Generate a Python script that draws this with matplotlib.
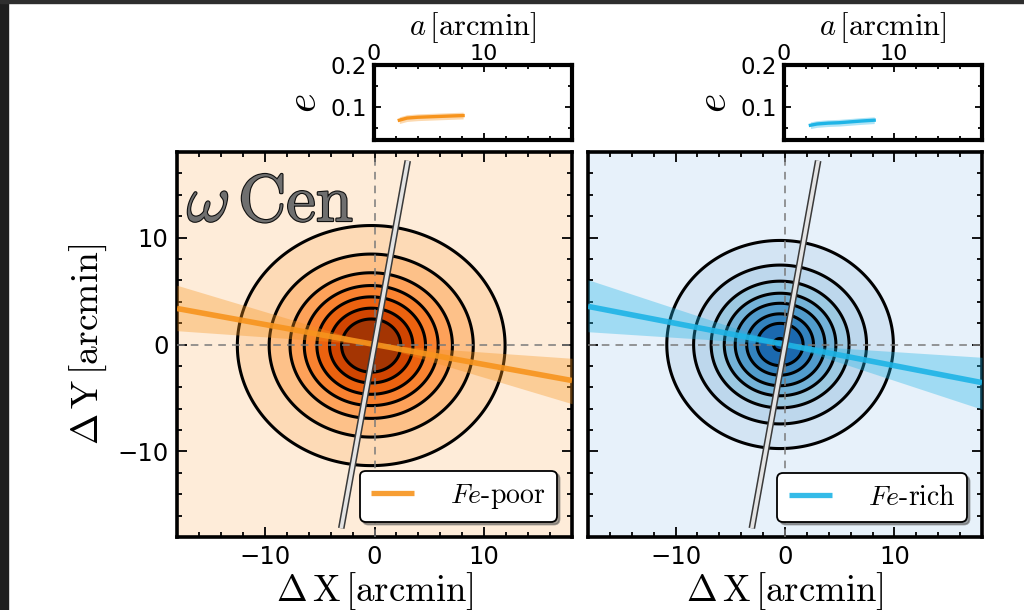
import numpy as np
import matplotlib
matplotlib.use("Agg")
import matplotlib.pyplot as plt
import matplotlib.patheffects as pe
from matplotlib.patches import Rectangle
from matplotlib.ticker import MultipleLocator

plt.rcParams['mathtext.fontset'] = 'cm'
plt.rcParams['font.family'] = 'DejaVu Sans'

# --- data ---------------------------------------------------------------
panels = ["poor", "rich"]
legend_labels = {"poor": r"$Fe$-poor", "rich": r"$Fe$-rich"}

# contour semi-major axes [arcmin], innermost first
contour_radii_poor = [2.7, 3.8, 4.95, 6.1, 7.4, 9.3, 12.2]
contour_radii_rich = [0.6, 2.1, 3.05, 4.1, 5.1, 6.3, 7.9, 10.35]
# centre offsets and axis ratios of the density maps
centre_poor = (-0.3, -0.1)
centre_rich = (-0.45, 0.0)
axis_ratio_poor = 0.92
axis_ratio_rich = 0.94

# position angle of the fitted major axis and its uncertainty [deg]
pa_poor, pa_err_poor = -10.6, 6.5
pa_rich, pa_err_rich = -11.2, 7.4

# reference axis (rotation axis) direction [deg] and half length [arcmin]
rot_axis_angle = 80.0
rot_axis_half_len = 17.45

# ellipticity profiles e(a)
a_poor = [2.3, 3.0, 4.0, 5.0, 6.0, 7.0, 8.1]
e_poor = [0.069, 0.074, 0.076, 0.077, 0.078, 0.079, 0.080]
e_err_poor = [0.008, 0.008, 0.008, 0.008, 0.008, 0.008, 0.008]
a_rich = [2.4, 3.0, 4.0, 5.0, 6.0, 7.0, 8.2]
e_rich = [0.057, 0.060, 0.062, 0.063, 0.065, 0.067, 0.069]
e_err_rich = [0.008, 0.008, 0.008, 0.008, 0.008, 0.008, 0.008]

main_ticks = [-10, 0, 10]
inset_xticks = [0, 10]
inset_yticks = [0.1, 0.2]

# --- style --------------------------------------------------------------
cfg = {
    "poor": dict(radii=contour_radii_poor, centre=centre_poor, q=axis_ratio_poor,
                 pa=pa_poor, pa_err=pa_err_poor, a=a_poor, e=e_poor, e_err=e_err_poor,
                 cmap=plt.cm.Oranges, line='#f7941d'),
    "rich": dict(radii=contour_radii_rich, centre=centre_rich, q=axis_ratio_rich,
                 pa=pa_rich, pa_err=pa_err_rich, a=a_rich, e=e_rich, e_err=e_err_rich,
                 cmap=plt.cm.Blues, line='#1eb4e6'),
}

W, H = 1024, 610
fig = plt.figure(figsize=(W / 100, H / 100), dpi=100)
fig.patch.set_facecolor('white')

# dark frame strips
fig.patches.append(Rectangle((0, 0), 8 / W, 1, transform=fig.transFigure,
                             color='#1e1e1e', zorder=-10))
fig.patches.append(Rectangle((0, 1 - 3 / H), 1, 3 / H, transform=fig.transFigure,
                             color='#2e2e2e', zorder=-10))

main_boxes = {"poor": [177 / W, 73 / H, 395 / W, 385 / H],
              "rich": [588 / W, 73 / H, 394 / W, 385 / H]}
inset_boxes = {"poor": [374 / W, 470 / H, 198 / W, 75 / H],
               "rich": [784 / W, 470 / H, 198 / W, 75 / H]}

lim = 18.0
xg = np.linspace(-lim, lim, 600)
X, Y = np.meshgrid(xg, xg)

unit = r'\,[\mathrm{arcmin}]'


def style_axes(ax, lw=2.6):
    for s in ax.spines.values():
        s.set_linewidth(lw)
    ax.tick_params(which='both', direction='in', top=True, right=True,
                   width=1.3, colors='k')
    ax.tick_params(which='major', length=7)
    ax.tick_params(which='minor', length=3.5)


for i, key in enumerate(panels):
    c = cfg[key]
    ax = fig.add_axes(main_boxes[key])
    cx, cy = c["centre"]
    R = np.sqrt((X - cx) ** 2 + ((Y - cy) / c["q"]) ** 2)
    radii = c["radii"]
    n = len(radii)
    levels = [0.0] + list(radii) + [100.0]
    fills = c["cmap"](np.linspace(0.88, 0.08, n + 1))
    ax.contourf(X, Y, R, levels=levels, colors=fills, zorder=1)
    ax.contour(X, Y, R, levels=radii, colors='k', linewidths=2.2, zorder=2)

    ax.axhline(0, color='#7a7a7a', lw=1.1, ls=(0, (5, 4)), zorder=3)
    ax.axvline(0, color='#7a7a7a', lw=1.1, ls=(0, (5, 4)), zorder=3)

    xs = np.linspace(-lim, lim, 200)
    t = np.radians(c["pa"])
    lo = xs * np.tan(np.radians(c["pa"] - c["pa_err"]))
    hi = xs * np.tan(np.radians(c["pa"] + c["pa_err"]))
    ax.fill_between(xs, lo, hi, color=c["line"], alpha=0.35, lw=0, zorder=4)
    ax.plot(xs, xs * np.tan(t), color=c["line"], lw=4, alpha=0.9, zorder=5,
            label=legend_labels[key], solid_capstyle='butt')

    ra = np.radians(rot_axis_angle)
    ends = np.array([-rot_axis_half_len, rot_axis_half_len])
    ax.plot(ends * np.cos(ra), ends * np.sin(ra), color='#e4e4e4', lw=2.6,
            zorder=6, solid_capstyle='butt',
            path_effects=[pe.Stroke(linewidth=4.8, foreground='#3a3a3a'), pe.Normal()])

    ax.set_xlim(-lim, lim)
    ax.set_ylim(-lim, lim)
    ax.set_xticks(main_ticks)
    ax.set_yticks(main_ticks)
    ax.xaxis.set_minor_locator(MultipleLocator(2))
    ax.yaxis.set_minor_locator(MultipleLocator(2))
    style_axes(ax)
    ax.tick_params(labelsize=17.5, pad=6)
    ax.set_xlabel(r'$\Delta\,\mathrm{X}' + unit + '$', fontsize=26.5, labelpad=1)
    if i == 0:
        ax.set_ylabel(r'$\Delta\,\mathrm{Y}' + unit + '$', fontsize=27, labelpad=6)
        ax.text(0.025, 0.955, r'$\omega\,\mathrm{Cen}$', transform=ax.transAxes,
                ha='left', va='top', fontsize=48, color='#6f6f6f', zorder=7,
                path_effects=[pe.withStroke(linewidth=1.6, foreground='#111111')])
    else:
        ax.set_yticklabels([])

    leg = ax.legend(loc='lower right', fancybox=True, shadow=True, framealpha=1,
                    edgecolor='k', facecolor='white', handlelength=1.55,
                    borderpad=0.4, handletextpad=1.3, borderaxespad=0.55,
                    prop=dict(family='cmr10', size=20))
    leg.get_frame().set_linewidth(1.3)
    leg.set_zorder(10)
    for h in leg.legend_handles:
        h.set_linewidth(3.8)

    # ellipticity profile inset
    ins = fig.add_axes(inset_boxes[key])
    a = np.array(c["a"])
    e = np.array(c["e"])
    de = np.array(c["e_err"])
    ins.fill_between(a, e - de, e + de, color=c["line"], alpha=0.35, lw=0)
    ins.plot(a, e, color=c["line"], lw=2.4)
    ins.set_xlim(0, lim)
    ins.set_ylim(0.022, 0.2)
    ins.set_xticks(inset_xticks)
    ins.set_yticks(inset_yticks)
    ins.xaxis.set_minor_locator(MultipleLocator(2))
    ins.yaxis.set_minor_locator(MultipleLocator(0.05))
    style_axes(ins, lw=3.0)
    ins.tick_params(which='major', length=5)
    ins.tick_params(which='minor', length=3)
    ins.tick_params(axis='x', labelsize=16, labelbottom=False, labeltop=True, pad=1)
    ins.tick_params(axis='y', labelsize=16.5, pad=5)
    ins.xaxis.set_label_position('top')
    ins.set_xlabel(r'$a' + unit + '$', fontsize=22, labelpad=6)
    ins.set_ylabel(r'$e$', fontsize=30, labelpad=4)

fig.savefig('out.png', dpi=100)
